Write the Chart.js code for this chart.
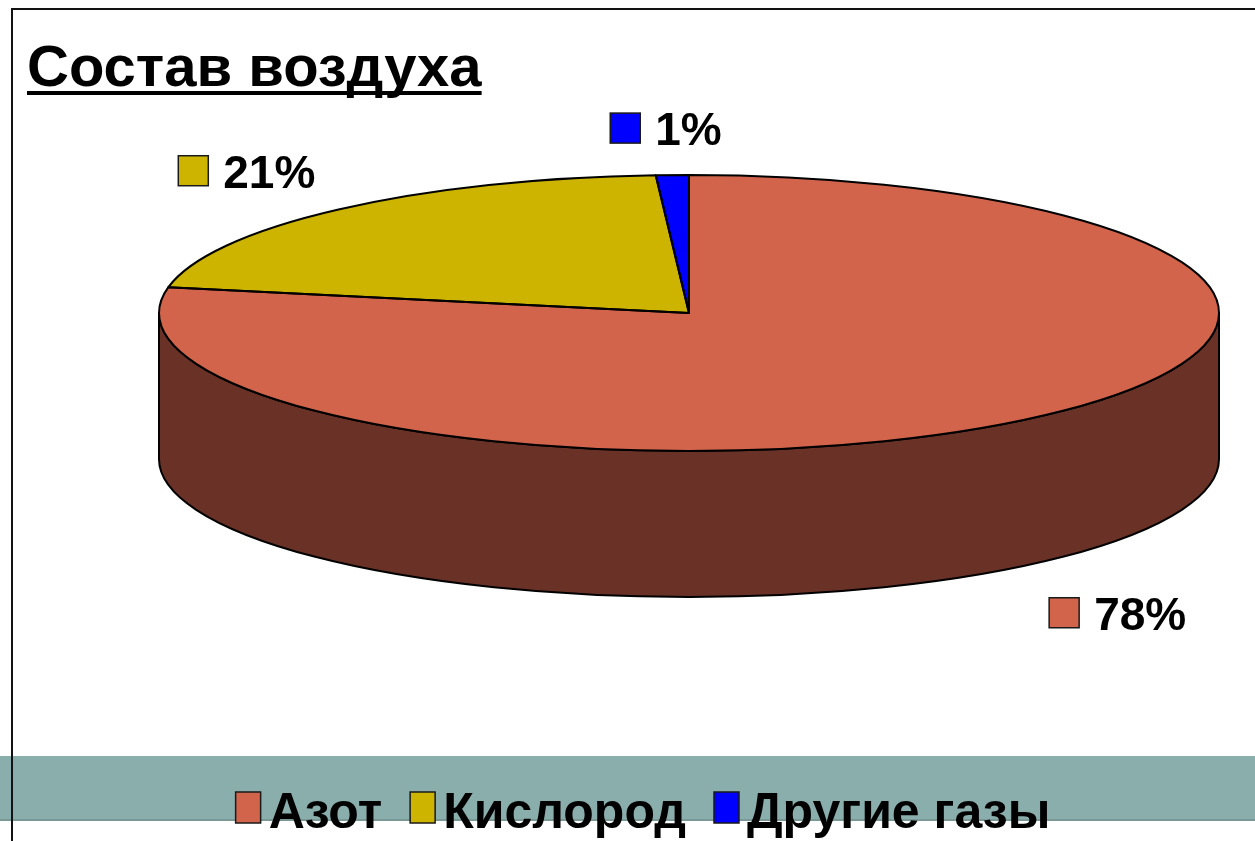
<!DOCTYPE html>
<html><head><meta charset="utf-8">
<style>
html,body{margin:0;padding:0;background:#fff;overflow:hidden}
canvas{display:block}
</style>
<script src="https://cdn.jsdelivr.net/npm/chart.js@4.4.1/dist/chart.umd.min.js"></script>
</head><body>
<canvas id="c" width="1255" height="841"></canvas>
<script>
// ---- data ----
const titleText = 'Состав воздуха';
const categories = ['Азот', 'Кислород', 'Другие газы'];
const values = [78, 21, 1];
const valueLabels = ['78%', '21%', '1%'];
const topColors = ['#d1644b', '#ccb400', '#0000ff'];
const sideColors = ['#6a3226', '#665a00', '#000080'];

// ---- layout / projection ----
const FONT = '"Liberation Sans", Arial, sans-serif';
const OX = 689, OY = 313, RX = 530, RY = 138, DEPTH = 146;

const backdrop = {
  id: 'backdrop',
  beforeDraw(chart) {
    const ctx = chart.ctx;
    ctx.save();
    ctx.fillStyle = '#ffffff';
    ctx.fillRect(0, 0, chart.width, chart.height);
    ctx.fillStyle = '#8aaeac';
    ctx.fillRect(0, 756, chart.width, 65);
    ctx.fillStyle = '#7a9896';
    ctx.fillRect(0, 819, chart.width, 2);
    ctx.fillStyle = '#111111';
    ctx.fillRect(11, 8, 2, chart.height - 8);
    ctx.fillRect(11, 8, chart.width - 11, 2);
    ctx.restore();
  },
  afterDraw(chart) {
    // underline the title
    const ctx = chart.ctx;
    const tb = chart.titleBlock;
    const f = chart.options.plugins.title.font;
    ctx.save();
    ctx.font = 'bold ' + f.size + 'px ' + f.family;
    const w = ctx.measureText(titleText).width;
    ctx.fillStyle = '#000';
    ctx.fillRect(tb.left, 91, w, 4);
    ctx.restore();
  }
};

function ellipsePt(t, dy) {
  return [OX + RX * Math.cos(t), OY + RY * Math.sin(t) + (dy || 0)];
}

const pie3d = {
  id: 'pie3d',
  beforeDatasetDraw(chart, args) {
    const ctx = chart.ctx;
    const els = args.meta.data;
    // side walls (front half only: angles 0..PI)
    els.forEach((el, i) => {
      const lo = Math.max(el.startAngle, 0), hi = Math.min(el.endAngle, Math.PI);
      if (lo >= hi) return;
      ctx.save();
      ctx.beginPath();
      ctx.ellipse(OX, OY, RX, RY, 0, lo, hi, false);
      const p = ellipsePt(hi, DEPTH);
      ctx.lineTo(p[0], p[1]);
      ctx.ellipse(OX, OY + DEPTH, RX, RY, 0, hi, lo, true);
      ctx.closePath();
      ctx.fillStyle = sideColors[i];
      ctx.fill();
      ctx.lineWidth = 2;
      ctx.strokeStyle = '#000';
      ctx.lineJoin = 'round';
      ctx.stroke();
      ctx.restore();
    });
    const e0 = els[0];
    const R = e0.outerRadius;
    ctx.save();
    ctx.translate(OX, OY);
    ctx.scale(RX / R, RY / R);
    ctx.translate(-e0.x, -e0.y);
  },
  afterDatasetDraw(chart, args) {
    const ctx = chart.ctx;
    ctx.restore();
    const els = args.meta.data;
    els.forEach((el) => {
      ctx.save();
      ctx.beginPath();
      ctx.moveTo(OX, OY);
      const p = ellipsePt(el.startAngle);
      ctx.lineTo(p[0], p[1]);
      ctx.ellipse(OX, OY, RX, RY, 0, el.startAngle, el.endAngle, false);
      ctx.closePath();
      ctx.lineWidth = 2;
      ctx.strokeStyle = '#000';
      ctx.lineJoin = 'round';
      ctx.stroke();
      ctx.restore();
    });
    // value labels
    const clamp = (v) => Math.max(-1, Math.min(1, v));
    els.forEach((el, i) => {
      const mid = (el.startAngle + el.endAngle) / 2;
      const ux = Math.cos(mid), uy = Math.sin(mid);
      const a = ellipsePt(mid, uy > 0 ? DEPTH : 0);
      ctx.save();
      ctx.font = 'bold 46px ' + FONT;
      const tw = ctx.measureText(valueLabels[i]).width;
      const box = 30, gap = 15, w = box + gap + tw, h = 36;
      const cx = a[0] + ux * 35 + (w / 2) * clamp(ux * 3);
      const cy = a[1] + uy * 33 + (h / 2) * clamp(uy * 3) + 4;
      const left = cx - w / 2;
      ctx.fillStyle = topColors[i];
      ctx.fillRect(left, cy - box / 2, box, box);
      ctx.lineWidth = 1.5;
      ctx.strokeStyle = '#1a1a1a';
      ctx.strokeRect(left, cy - box / 2, box, box);
      ctx.fillStyle = '#000';
      ctx.textBaseline = 'alphabetic';
      ctx.fillText(valueLabels[i], left + box + gap, cy + 17);
      ctx.restore();
    });
  }
};

const legendPlugin = {
  id: 'customLegend',
  afterDraw(chart) {
    const ctx = chart.ctx;
    ctx.save();
    ctx.font = 'bold 50px ' + FONT;
    const bw = 25, bh = 31, g = 8, sp = 28;
    const widths = categories.map(c => ctx.measureText(c).width);
    const total = widths.reduce((s, w) => s + bw + g + w, 0) + sp * (categories.length - 1);
    let x = 643 - total / 2;
    categories.forEach((c, i) => {
      ctx.fillStyle = topColors[i];
      ctx.fillRect(x, 792, bw, bh);
      ctx.lineWidth = 1.5;
      ctx.strokeStyle = '#1a1a1a';
      ctx.strokeRect(x, 792, bw, bh);
      ctx.fillStyle = '#000';
      ctx.textBaseline = 'alphabetic';
      ctx.fillText(c, x + bw + g, 828);
      x += bw + g + widths[i] + sp;
    });
    ctx.restore();
  }
};

new Chart(document.getElementById('c'), {
  type: 'pie',
  data: {
    labels: categories,
    datasets: [{
      data: values,
      backgroundColor: topColors,
      borderWidth: 0,
      clip: false
    }]
  },
  options: {
    responsive: false,
    devicePixelRatio: 1,
    animation: false,
    events: [],
    layout: { padding: { left: 27, top: 0, right: 20, bottom: 20 } },
    plugins: {
      legend: { display: false },
      tooltip: { enabled: false },
      title: {
        display: true,
        text: titleText,
        align: 'start',
        color: '#000',
        font: { family: FONT, size: 58, weight: 'bold' },
        padding: { top: 35, bottom: 10 }
      }
    }
  },
  plugins: [backdrop, pie3d, legendPlugin]
});
</script>
</body></html>
